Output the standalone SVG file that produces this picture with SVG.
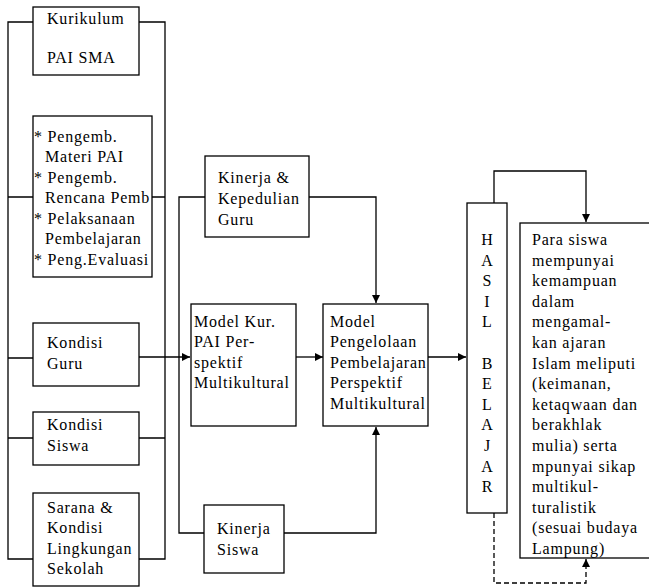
<svg xmlns="http://www.w3.org/2000/svg" width="649" height="587" viewBox="0 0 649 587">
  <style>
    .box { fill: #fff; stroke: #000; stroke-width: 1.3; }
    .ln { fill: none; stroke: #000; stroke-width: 1.3; }
    .dash { fill: none; stroke: #000; stroke-width: 1.3; stroke-dasharray: 5 3; }
    text { font-family: "Liberation Serif", "Times New Roman", serif; font-size: 16px; fill: #000; letter-spacing: 0.8px; }
    .mid { text-anchor: middle; letter-spacing: 0; }
  </style>
  <defs>
    <marker id="ah" viewBox="0 0 10 10" refX="10" refY="5" markerWidth="8" markerHeight="8" markerUnits="userSpaceOnUse" orient="auto">
      <path d="M0,0 L10,5 L0,10 z" fill="#000"/>
    </marker>
  </defs>

  <!-- connectors -->
  <g id="connectors">
    <!-- left bracket joining the input boxes -->
    <path class="ln" d="M33,22 H8 V559 H33"/>
    <path class="ln" d="M8,197 H33 M8,358 H33 M8,438 H33"/>
    <!-- right bracket joining the input boxes -->
    <path class="ln" d="M139,22 H165 V559 H139"/>
    <path class="ln" d="M152,197 H165 M139,438 H165"/>
    <!-- main flow -->
    <path class="ln" d="M139,357 H190" marker-end="url(#ah)"/>
    <path class="ln" d="M296,357 H323" marker-end="url(#ah)"/>
    <path class="ln" d="M428,357 H466" marker-end="url(#ah)"/>
    <!-- performance branches -->
    <path class="ln" d="M205,197 H179 V533 H204"/>
    <path class="ln" d="M309,197 H376 V303" marker-end="url(#ah)"/>
    <path class="ln" d="M284,533 H376 V427" marker-end="url(#ah)"/>
    <!-- result links -->
    <path class="ln" d="M494,203 V171 H586 V222" marker-end="url(#ah)"/>
    <path class="dash" d="M494,513 V583 H586 V559" marker-end="url(#ah)"/>
  </g>

  <g id="kurikulum">
    <rect class="box" x="33" y="7" width="106" height="68"/>
    <text x="47" y="24">Kurikulum</text>
    <text x="47" y="63">PAI SMA</text>
  </g>

  <g id="pengembangan">
    <rect class="box" x="33" y="116" width="119" height="161"/>
    <text x="34" y="142">* Pengemb.</text>
    <text x="45" y="162">Materi PAI</text>
    <text x="34" y="183">* Pengemb.</text>
    <text x="45" y="203">Rencana Pemb</text>
    <text x="34" y="224">* Pelaksanaan</text>
    <text x="45" y="244">Pembelajaran</text>
    <text x="34" y="265">* Peng.Evaluasi</text>
  </g>

  <g id="kondisi-guru">
    <rect class="box" x="33" y="323" width="106" height="63"/>
    <text x="47" y="348">Kondisi</text>
    <text x="47" y="369">Guru</text>
  </g>

  <g id="kondisi-siswa">
    <rect class="box" x="33" y="412" width="106" height="53"/>
    <text x="47" y="430">Kondisi</text>
    <text x="47" y="451">Siswa</text>
  </g>

  <g id="sarana">
    <rect class="box" x="33" y="493" width="106" height="93"/>
    <text x="47" y="513">Sarana &amp;</text>
    <text x="47" y="533">Kondisi</text>
    <text x="47" y="554">Lingkungan</text>
    <text x="47" y="574">Sekolah</text>
  </g>

  <g id="kinerja-guru">
    <rect class="box" x="205" y="156" width="104" height="81"/>
    <text x="218" y="183">Kinerja &amp;</text>
    <text x="218" y="204">Kepedulian</text>
    <text x="218" y="225">Guru</text>
  </g>

  <g id="model-kurikulum">
    <rect class="box" x="191" y="304" width="105" height="122"/>
    <text x="194" y="327">Model Kur.</text>
    <text x="194" y="347">PAI Per-</text>
    <text x="194" y="368">spektif</text>
    <text x="194" y="388">Multikultural</text>
  </g>

  <g id="model-pengelolaan">
    <rect class="box" x="323" y="304" width="105" height="122"/>
    <text x="330" y="327">Model</text>
    <text x="330" y="347">Pengelolaan</text>
    <text x="330" y="368">Pembelajaran</text>
    <text x="330" y="388">Perspektif</text>
    <text x="330" y="409">Multikultural</text>
  </g>

  <g id="kinerja-siswa">
    <rect class="box" x="204" y="505" width="80" height="68"/>
    <text x="217" y="534">Kinerja</text>
    <text x="217" y="555">Siswa</text>
  </g>

  <g id="hasil-belajar">
    <rect class="box" x="467" y="203" width="40" height="310"/>
    <text class="mid" x="487" y="245">H</text>
    <text class="mid" x="487" y="265.6">A</text>
    <text class="mid" x="487" y="286.2">S</text>
    <text class="mid" x="487" y="306.8">I</text>
    <text class="mid" x="487" y="327.4">L</text>
    <text class="mid" x="487" y="368.6">B</text>
    <text class="mid" x="487" y="389.2">E</text>
    <text class="mid" x="487" y="409.8">L</text>
    <text class="mid" x="487" y="430.4">A</text>
    <text class="mid" x="487" y="451">J</text>
    <text class="mid" x="487" y="471.6">A</text>
    <text class="mid" x="487" y="492.2">R</text>
  </g>

  <g id="tujuan">
    <rect class="box" x="520" y="223" width="132" height="335"/>
    <text x="532" y="245">Para siswa</text>
    <text x="532" y="265.6">mempunyai</text>
    <text x="532" y="286.2">kemampuan</text>
    <text x="532" y="306.8">dalam</text>
    <text x="532" y="327.4">mengamal-</text>
    <text x="532" y="348">kan ajaran</text>
    <text x="532" y="368.6">Islam meliputi</text>
    <text x="532" y="389.2">(keimanan,</text>
    <text x="532" y="409.8">ketaqwaan dan</text>
    <text x="532" y="430.4">berakhlak</text>
    <text x="532" y="451">mulia) serta</text>
    <text x="532" y="471.6">mpunyai sikap</text>
    <text x="532" y="492.2">multikul-</text>
    <text x="532" y="512.8">turalistik</text>
    <text x="532" y="533.4">(sesuai budaya</text>
    <text x="532" y="554">Lampung)</text>
  </g>
</svg>
